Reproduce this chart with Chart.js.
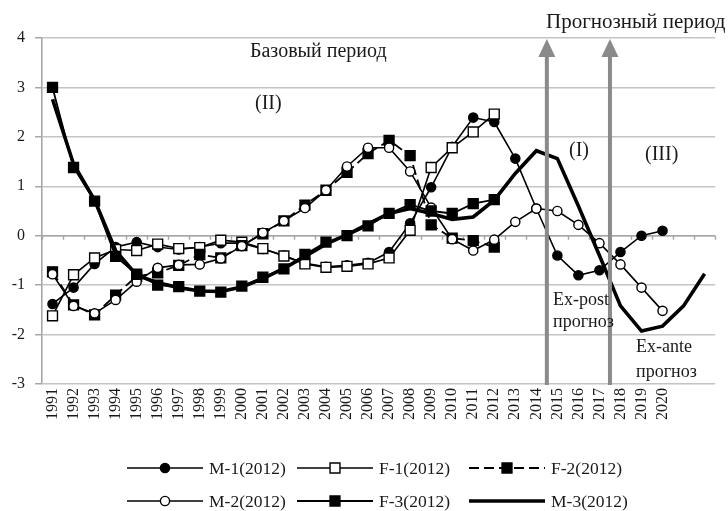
<!DOCTYPE html>
<html>
<head>
<meta charset="utf-8">
<script src="https://cdn.jsdelivr.net/npm/chart.js@4/dist/chart.umd.min.js"></script>
<style>
  html, body { margin: 0; padding: 0; background: #fff; }
  canvas { display: block; }
</style>
</head>
<body>
<canvas id="c" width="728" height="511"></canvas>
<script>
// ---- data ----
const categories = ['1991','1992','1993','1994','1995','1996','1997','1998','1999','2000',
  '2001','2002','2003','2004','2005','2006','2007','2008','2009','2010',
  '2011','2012','2013','2014','2015','2016','2017','2018','2019','2020','2021','2022'];
const tickLabels = ['1991','1992','1993','1994','1995','1996','1997','1998','1999','2000',
  '2001','2002','2003','2004','2005','2006','2007','2008','2009','2010',
  '2011','2012','2013','2014','2015','2016','2017','2018','2019','2020','',''];
const yTicks = [-3, -2, -1, 0, 1, 2, 3, 4];
const seriesNames = ['M-1(2012)','F-1(2012)','F-2(2012)','M-2(2012)','F-3(2012)','M-3(2012)'];

const M1 = [-1.38,-1.05,-0.57,-0.23,-0.13,-0.23,-0.28,-0.23,-0.15,-0.15,
  -0.27,-0.40,-0.56,-0.63,-0.60,-0.55,-0.33,0.25,0.98,1.80,
  2.39,2.30,1.56,0.55,-0.40,-0.80,-0.70,-0.33,0.00,0.10,null,null];
const F1 = [-1.62,-0.79,-0.45,-0.28,-0.30,-0.17,-0.26,-0.24,-0.09,-0.13,
  -0.26,-0.41,-0.57,-0.64,-0.62,-0.57,-0.45,0.11,1.38,1.78,
  2.10,2.46,null,null,null,null,null,null,null,null,null,null];
const F2 = [-0.73,-1.40,-1.60,-1.20,-0.82,-0.75,-0.60,-0.38,-0.45,-0.20,
  0.04,0.30,0.62,0.92,1.28,1.66,1.93,1.62,0.22,-0.05,
  -0.10,-0.23,null,null,null,null,null,null,null,null,null,null];
const M2 = [-0.78,-1.42,-1.57,-1.30,-0.93,-0.65,-0.59,-0.58,-0.46,-0.21,
  0.06,0.30,0.56,0.92,1.40,1.78,1.78,1.30,0.57,-0.07,
  -0.30,-0.08,0.28,0.55,0.50,0.22,-0.15,-0.58,-1.05,-1.52,null,null];
const F3 = [3.00,1.38,0.70,-0.42,-0.78,-1.00,-1.03,-1.12,-1.14,-1.02,
  -0.84,-0.67,-0.38,-0.13,0.00,0.20,0.45,0.63,0.50,0.45,
  0.65,0.73,null,null,null,null,null,null,null,null,null,null];
const M3 = [2.76,1.45,0.72,-0.30,-0.80,-0.95,-1.05,-1.12,-1.13,-1.04,
  -0.87,-0.66,-0.42,-0.17,0.02,0.24,0.45,0.55,0.45,0.33,
  0.38,0.72,1.26,1.72,1.56,0.60,-0.40,-1.42,-1.93,-1.83,-1.42,-0.77];

// forecast boundaries: arrows between these category pairs
const arrowBetween = [['2014','2015'], ['2017','2018']];

const SERIF = '"Liberation Serif", "DejaVu Serif", serif';
const GRID = '#c4c4c4';
const AXIS = '#a6a6a6';
const TEXT = '#1a1a1a';

function ds(label, data, o) {
  return Object.assign({
    label, data, borderColor: '#000', backgroundColor: '#000',
    borderWidth: 1.6, pointBorderColor: '#000', pointBorderWidth: 1.4,
    pointRadius: 4.6, pointHoverRadius: 4.6, tension: 0, spanGaps: false, fill: false
  }, o);
}

const datasets = [
  ds(seriesNames[0], M1, { pointStyle: 'circle', pointBackgroundColor: '#000', order: 6 }),
  ds(seriesNames[1], F1, { pointStyle: 'rect', pointRadius: 7, pointBackgroundColor: '#fff', order: 5 }),
  ds(seriesNames[2], F2, { pointStyle: 'rect', pointRadius: 7, pointBackgroundColor: '#000', borderDash: [10, 5], borderWidth: 1.8, order: 4 }),
  ds(seriesNames[3], M2, { pointStyle: 'circle', pointBackgroundColor: '#fff', order: 3 }),
  ds(seriesNames[4], F3, { pointStyle: 'rect', pointRadius: 7, pointBackgroundColor: '#000', borderWidth: 1.8, order: 2 }),
  ds(seriesNames[5], M3, { pointStyle: false, pointRadius: 0, borderWidth: 3.6, order: 1 })
];

function drawMarker(ctx, d, x, y) {
  if (!d.pointStyle) return;
  const r = d.pointRadius;
  ctx.save();
  ctx.setLineDash([]);
  ctx.fillStyle = d.pointBackgroundColor;
  ctx.strokeStyle = d.pointBorderColor;
  ctx.lineWidth = d.pointBorderWidth;
  ctx.beginPath();
  if (d.pointStyle === 'circle') {
    ctx.arc(x, y, r, 0, Math.PI * 2);
  } else {
    const s = r * Math.SQRT1_2;
    ctx.rect(x - s, y - s, 2 * s, 2 * s);
  }
  ctx.fill();
  ctx.stroke();
  ctx.restore();
}

const decorPlugin = {
  id: 'decor',
  beforeDatasetsDraw(chart) {
    const { ctx, chartArea: a, scales: { y } } = chart;
    const y0 = y.getPixelForValue(0);
    const n = categories.length;
    const w = (a.right - a.left) / n;
    ctx.save();
    ctx.strokeStyle = AXIS;
    ctx.lineWidth = 1.4;
    ctx.beginPath();
    ctx.moveTo(a.left, y0); ctx.lineTo(a.right, y0);
    for (let i = 0; i <= n; i++) {
      const px = Math.round(a.left + i * w) + 0.5;
      ctx.moveTo(px, y0); ctx.lineTo(px, y0 + 4);
    }
    ctx.stroke();
    ctx.restore();
  },
  afterDraw(chart) {
    const { ctx, chartArea: a, scales: { x } } = chart;
    // arrows
    ctx.save();
    ctx.fillStyle = '#8a8a8a';
    ctx.strokeStyle = '#8a8a8a';
    arrowBetween.forEach(([c1, c2]) => {
      const px = (x.getPixelForValue(categories.indexOf(c1)) + x.getPixelForValue(categories.indexOf(c2))) / 2;
      const tip = a.top + 1, headH = 18, headW = 8.5;
      ctx.lineWidth = 4;
      ctx.beginPath();
      ctx.moveTo(px, a.bottom + 1);
      ctx.lineTo(px, tip + headH - 1);
      ctx.stroke();
      ctx.beginPath();
      ctx.moveTo(px, tip);
      ctx.lineTo(px - headW, tip + headH);
      ctx.lineTo(px + headW, tip + headH);
      ctx.closePath();
      ctx.fill();
    });
    ctx.restore();

    // text annotations
    ctx.save();
    ctx.fillStyle = TEXT;
    ctx.textBaseline = 'middle';
    ctx.textAlign = 'left';
    ctx.font = '21px ' + SERIF;
    ctx.fillText('Прогнозный период', 546, 22);
    ctx.font = '20px ' + SERIF;
    ctx.fillText('Базовый период', 250, 52);
    ctx.fillText('(II)', 255, 104);
    ctx.fillText('(I)', 569, 151);
    ctx.fillText('(III)', 645, 155);
    ctx.font = '18px ' + SERIF;
    ctx.fillText('Ex-post', 553, 300);
    ctx.fillText('прогноз', 553, 322);
    ctx.fillText('Ex-ante', 636, 347);
    ctx.fillText('прогноз', 636, 372);
    ctx.restore();

    // legend
    const lineX = [127, 297, 469];
    const rowY = [468, 501];
    ctx.save();
    chart.data.datasets.forEach((d, i) => {
      const row = Math.floor(i / 3), col = i % 3;
      const x0 = lineX[col], yy = rowY[row], len = 76;
      ctx.save();
      ctx.strokeStyle = d.borderColor;
      ctx.lineWidth = d.borderWidth;
      ctx.setLineDash(d.borderDash || []);
      ctx.beginPath();
      ctx.moveTo(x0, yy); ctx.lineTo(x0 + len, yy);
      ctx.stroke();
      ctx.restore();
      drawMarker(ctx, d, x0 + len / 2, yy);
      ctx.fillStyle = TEXT;
      ctx.font = '17.5px ' + SERIF;
      ctx.textAlign = 'left';
      ctx.textBaseline = 'middle';
      ctx.fillText(d.label, x0 + len + 6, yy + 1);
    });
    ctx.restore();
  }
};

new Chart(document.getElementById('c'), {
  type: 'line',
  data: { labels: categories, datasets },
  options: {
    responsive: false,
    animation: false,
    devicePixelRatio: 1,
    layout: { padding: { top: 38, right: 12, left: 0, bottom: 0 } },
    plugins: { legend: { display: false }, tooltip: { enabled: false } },
    scales: {
      x: {
        type: 'category',
        offset: true,
        grid: { display: false, drawTicks: false },
        border: { display: false },
        ticks: {
          autoSkip: false, maxRotation: 90, minRotation: 90, padding: 4,
          color: TEXT, font: { family: SERIF, size: 16 },
          callback: (v, i) => tickLabels[i]
        },
        afterFit: s => { s.height = 127; }
      },
      y: {
        min: -3, max: 4,
        afterBuildTicks: s => { s.ticks = yTicks.map(v => ({ value: v })); },
        grid: { color: GRID, lineWidth: 1.5, tickLength: 7, tickColor: AXIS },
        border: { display: true, color: AXIS, width: 1.6 },
        ticks: { padding: 10, color: TEXT, font: { family: SERIF, size: 16 } },
        afterFit: s => { s.width = 42; }
      }
    }
  },
  plugins: [decorPlugin]
});
</script>
</body>
</html>
